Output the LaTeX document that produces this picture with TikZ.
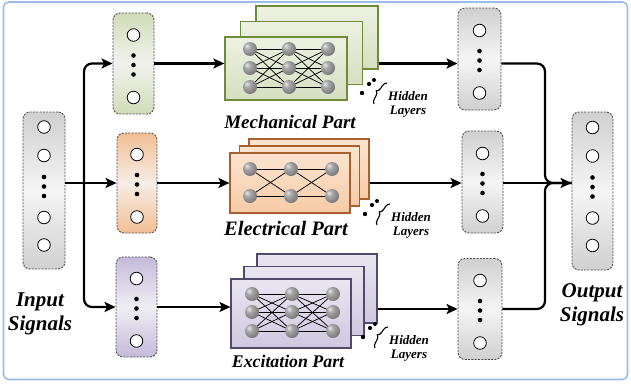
\documentclass[tikz,border=0pt]{standalone}
\usepackage{fontspec}
\setmainfont{Liberation Serif}
\usetikzlibrary{arrows.meta,calc,decorations.pathreplacing}
\definecolor{frameblue}{HTML}{9DBDE8}
\definecolor{graytop}{HTML}{D0D0D0}
\definecolor{graymid}{HTML}{F5F5F5}
\definecolor{greentop}{HTML}{D0DCB8}
\definecolor{greenmid}{HTML}{F2F2EE}
\definecolor{orangetop}{HTML}{F2BE95}
\definecolor{orangemid}{HTML}{F6EEE6}
\definecolor{purpletop}{HTML}{C4BAD9}
\definecolor{purplemid}{HTML}{EFEEF3}
\definecolor{mechA}{HTML}{EDF1E2}
\definecolor{mechB}{HTML}{D5DFC0}
\definecolor{mechD}{HTML}{6F8B3A}
\definecolor{elecA}{HTML}{FCE4CF}
\definecolor{elecB}{HTML}{F6CBA7}
\definecolor{elecD}{HTML}{A8602E}
\definecolor{excA}{HTML}{E9E6F1}
\definecolor{excB}{HTML}{CFC8E0}
\definecolor{excD}{HTML}{4F4A6A}
\definecolor{ballhi}{HTML}{E6E6E6}
\definecolor{ballmid}{HTML}{A6A6A6}
\definecolor{balldk}{HTML}{7C7C7C}
\definecolor{balledge}{HTML}{5E5E5E}
\pgfdeclareradialshading{softball}{\pgfqpoint{-12bp}{12bp}}{%
  color(0bp)=(ballhi); color(12bp)=(ballmid); color(30bp)=(balldk);
  color(50bp)=(balledge); color(70bp)=(balledge)}

\newcommand\sigthree[1]{%
  \foreach \d in {-28.5,34}{\draw[hole] ($(#1)+(0,\d)$) circle[radius=6.3pt];}
  \foreach \d in {-8,1.5,11}{\fill ($(#1)+(0,\d)$) circle[radius=2.3pt];}
}
\newcommand\sigfour[1]{%
  \foreach \d in {-63.5,-35,27,54.5}{\draw[hole] ($(#1)+(0,\d)$) circle[radius=6.3pt];}
  \foreach \d in {-13.5,-4,5.5}{\fill ($(#1)+(0,\d)$) circle[radius=2.3pt];}
}
\newcommand\netnine[7]{%
  \foreach \i in {#5,#6,#7}{\foreach \j in {#5,#6,#7}{%
    \draw[netline] ($(#1)+(#2,\i)$) -- ($(#1)+(#3,\j)$);
    \draw[netline] ($(#1)+(#3,\i)$) -- ($(#1)+(#4,\j)$);}}
  \foreach \c in {#2,#3,#4}{\foreach \r in {#5,#6,#7}{%
    \shade[shading=softball] ($(#1)+(\c,\r)$) circle[radius=7pt];}}
}
\newcommand\netsix[6]{%
  \foreach \i in {#5,#6}{\foreach \j in {#5,#6}{%
    \draw[netline] ($(#1)+(#2,\i)$) -- ($(#1)+(#3,\j)$);
    \draw[netline] ($(#1)+(#3,\i)$) -- ($(#1)+(#4,\j)$);}}
  \foreach \c in {#2,#3,#4}{\foreach \r in {#5,#6}{%
    \shade[shading=softball] ($(#1)+(\c,\r)$) circle[radius=7pt];}}
}
\newcommand\hiddenmark[2]{%
  \fill ($(#2)+(0,0)$) circle[radius=2.2pt];
  \fill ($(#2)+(7,-9)$) circle[radius=2.1pt];
  \fill ($(#2)+(12,-13)$) circle[radius=2pt];
  \draw[line width=1.1pt, decorate, decoration={brace, amplitude=5pt, aspect=0.5}]
    ($(#2)+(12,11)$) -- ($(#2)+(25,-10)$);
  \node[hidtext] (#1) at ($(#2)+(46,11)$) {Hidden\\[-1pt]Layers};
}

\begin{document}
\begin{tikzpicture}[x=1pt,y=-1pt,
  sigbox/.style={draw=black!70, dash pattern=on 2pt off 1.3pt, line width=0.9pt,
    rounded corners=7pt, inner sep=0pt},
  graybox/.style={sigbox, top color=graytop, bottom color=graytop, middle color=graymid},
  greenbox/.style={sigbox, top color=greentop, bottom color=greentop, middle color=greenmid},
  orangebox/.style={sigbox, top color=orangetop, bottom color=orangetop, middle color=orangemid},
  purplebox/.style={sigbox, top color=purpletop, bottom color=purpletop, middle color=purplemid},
  hole/.style={fill=white, draw=black, line width=0.8pt},
  netline/.style={line width=0.75pt, black},
  mechrect/.style={draw=mechD, line width=1.2pt, top color=mechA, bottom color=mechB,
    minimum width=122pt, minimum height=63pt, inner sep=0pt},
  elecrect/.style={draw=elecD, line width=1.2pt, top color=elecA, bottom color=elecB,
    minimum width=120pt, minimum height=60pt, inner sep=0pt},
  excrect/.style={draw=excD, line width=1.2pt, top color=excA, bottom color=excB,
    minimum width=120pt, minimum height=69pt, inner sep=0pt},
  conn/.style={line width=2.2pt, black},
  arr/.style={conn, -{Stealth[length=11pt,width=10pt,inset=2.5pt]}},
  hidtext/.style={font=\fontsize{13}{15}\selectfont\bfseries\itshape, align=center, inner sep=0pt},
  partlabel/.style={font=\bfseries\itshape, anchor=base, inner sep=0pt},
  siglabel/.style={font=\fontsize{21}{24}\selectfont\bfseries\itshape, align=center, inner sep=0pt}
]
\useasboundingbox (0,0) rectangle (631,386);
\fill[white] (0,0) rectangle (631,386);
\draw[frameblue, line width=1.6pt, rounded corners=5pt] (3.5,2) rectangle (627.5,379.5);

% signal boxes
\node[graybox, minimum width=42pt, minimum height=157pt] (in) at (44,190.5) {};
\node[greenbox, minimum width=41pt, minimum height=101pt] (g) at (133.5,63.5) {};
\node[orangebox, minimum width=40pt, minimum height=100pt] (o) at (137,183) {};
\node[purplebox, minimum width=41pt, minimum height=100pt] (p) at (136.5,307) {};
\node[graybox, minimum width=43pt, minimum height=102pt] (r1) at (479.5,59) {};
\node[graybox, minimum width=41pt, minimum height=102pt] (r2) at (482.5,182) {};
\node[graybox, minimum width=44pt, minimum height=101pt] (r3) at (480,309) {};
\node[graybox, minimum width=41pt, minimum height=158pt] (out) at (592.5,191) {};
\sigfour{in}
\sigfour{out}
\sigthree{g}
\sigthree{o}
\sigthree{p}
\sigthree{r1}
\sigthree{r2}
\sigthree{r3}

% stacked parts
\node[mechrect] (mb) at (317,37.5) {};
\node[mechrect] (mm) at (301.5,53) {};
\node[mechrect] (mf) at (286,68.5) {};
\netnine{mf}{-36}{3}{42}{-19.5}{-0.5}{18.5}

\node[elecrect] (eb) at (309,169) {};
\node[elecrect] (em) at (299.5,176) {};
\node[elecrect] (ef) at (290,183) {};
\netsix{ef}{-40}{1}{42}{-14}{13}

\node[excrect] (xb) at (317,288.5) {};
\node[excrect] (xm) at (304,301) {};
\node[excrect] (xf) at (291,313.5) {};
\netnine{xf}{-39}{1}{42}{-19.5}{-1.5}{17.5}

% hidden layer marks
\hiddenmark{hm}{362,93}
\hiddenmark{he}{365,214}
\hiddenmark{hx}{363,337}

% labels
\node[partlabel, font=\fontsize{19}{21}\selectfont\bfseries\itshape] (lm) at (290,128) {Mechanical Part};
\node[partlabel, font=\fontsize{20.5}{22}\selectfont\bfseries\itshape] (le) at (286,235) {Electrical Part};
\node[partlabel, font=\fontsize{17.8}{20}\selectfont\bfseries\itshape] (lx) at (288,367) {Excitation Part};
\node[siglabel] (lin) at (40,314) {Input\\Signals};
\node[siglabel] (lout) at (592,305) {Output\\Signals};

% input connectors
\coordinate (br) at (84,183);
\draw[arr] (in.east |- o.west) -- (o.west);
\draw[arr, rounded corners=8pt] (br) |- (g.west);
\draw[arr, rounded corners=8pt] (br) |- (p.west);

% into parts
\draw[arr] (g.east) -- (mf.west |- g.east);
\draw[arr] (o.east) -- (ef.west |- o.east);
\draw[arr] (p.east) -- (xf.west |- p.east);

% out of parts
\draw[arr] (mb.east |- g.east) -- (r1.west |- g.east);
\draw[arr] (eb.east |- o.east) -- (r2.west |- o.east);
\draw[arr] (xb.east |- r3.west) -- (r3.west);

% merge to output
\coordinate (jn) at (545,183);
\draw[conn, rounded corners=8pt] (r1.east |- g.east) -| (jn) -- (out.west |- jn);
\draw[conn, rounded corners=8pt] (r3.east) -| (jn) -- (out.west |- jn);
\draw[arr] (r2.east |- jn) -- (out.west |- jn);
\end{tikzpicture}
\end{document}
